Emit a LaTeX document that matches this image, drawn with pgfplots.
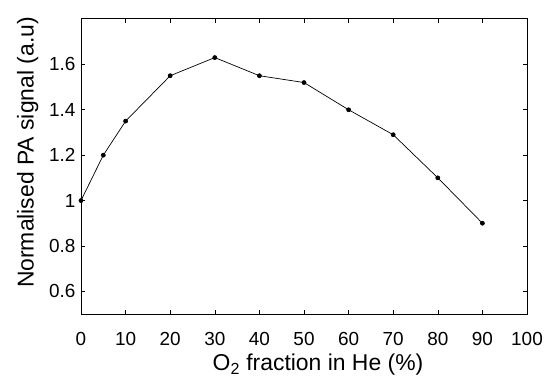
\documentclass[border=0pt]{standalone}
\usepackage{pgfplots}
\pgfplotsset{compat=1.18}
\usepackage{fontspec}
\setmainfont{Liberation Sans}
\begin{document}
\begin{tikzpicture}[x=1bp,y=1bp]
\path[use as bounding box] (0,0) rectangle (548,379);
\begin{axis}[
  at={(81bp,65bp)}, anchor=south west,
  scale only axis, width=446bp, height=295bp,
  xmin=0, xmax=100, ymin=0.5, ymax=1.8,
  xtick={0,10,...,100},
  ytick={0.6,0.8,1,1.2,1.4,1.6},
  yticklabels={0.6,0.8,1,1.2,1.4,1.6},
  tick align=inside, major tick length=4bp,
  axis line style={line width=1pt},
  tick style={line width=0.6pt, black},
  /pgf/number format/assume math mode=true,
  tick label style={font=\fontsize{19}{22}\selectfont},
  xticklabel style={yshift=-15bp},
  yticklabel style={xshift=-2bp},
  ylabel style={font=\fontsize{23}{26}\selectfont, xshift=14bp, yshift=4bp},
  xlabel={O\textsubscript{2} fraction in He (\%)},
  ylabel={Normalised PA signal (a.u)},
  xlabel style={font=\fontsize{23}{26}\selectfont, yshift=-1bp, xshift=14bp},
]
\addplot[black, line width=0.7pt, mark=*, mark size=2bp] coordinates {
(0,1.0) (5,1.2) (10,1.35) (20,1.55) (30,1.63) (40,1.55) (50,1.52) (60,1.40) (70,1.29) (80,1.10) (90,0.90)
};
\end{axis}
\end{tikzpicture}
\end{document}
